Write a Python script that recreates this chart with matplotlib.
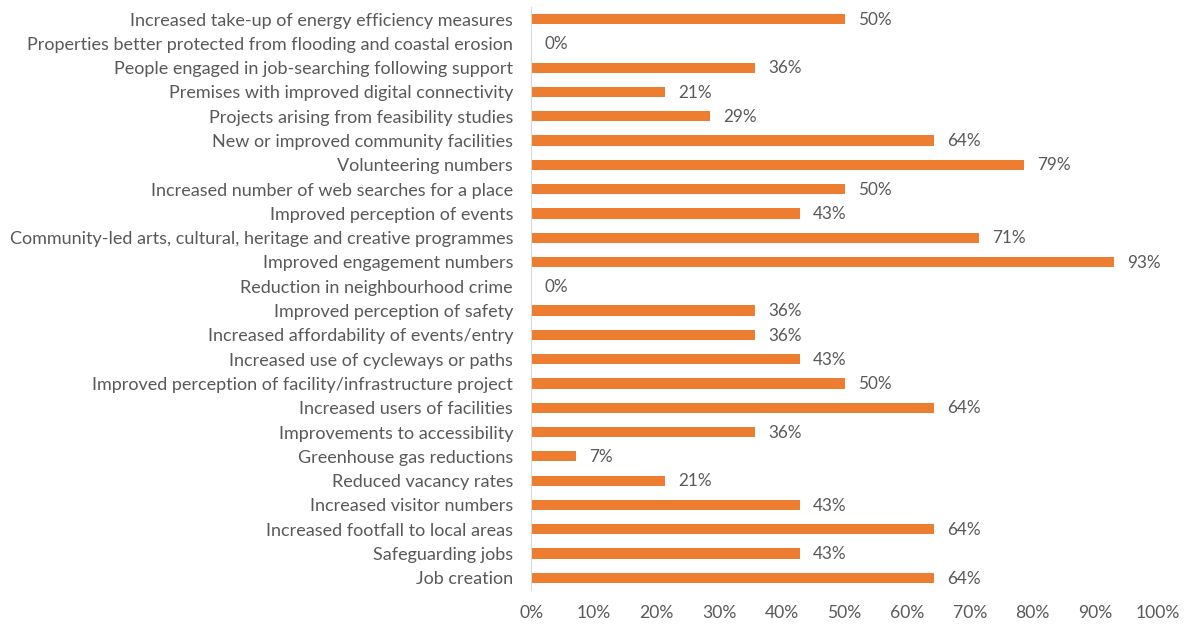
import matplotlib.pyplot as plt
from matplotlib.ticker import PercentFormatter

# categories listed from bottom to top, as drawn
categories = [
    'Job creation',
    'Safeguarding jobs',
    'Increased footfall to local areas',
    'Increased visitor numbers',
    'Reduced vacancy rates',
    'Greenhouse gas reductions',
    'Improvements to accessibility',
    'Increased users of facilities',
    'Improved perception of facility/infrastructure project',
    'Increased use of cycleways or paths',
    'Increased affordability of events/entry',
    'Improved perception of safety',
    'Reduction in neighbourhood crime',
    'Improved engagement numbers',
    'Community-led arts, cultural, heritage and creative programmes',
    'Improved perception of events',
    'Increased number of web searches for a place',
    'Volunteering numbers',
    'New or improved community facilities',
    'Projects arising from feasibility studies',
    'Premises with improved digital connectivity',
    'People engaged in job-searching following support',
    'Properties better protected from flooding and coastal erosion',
    'Increased take-up of energy efficiency measures',
]
values = [64.3, 42.9, 64.3, 42.9, 21.4, 7.1, 35.7, 64.3, 50.0, 42.9, 35.7, 35.7,
          0.0, 92.9, 71.4, 42.9, 50.0, 78.6, 64.3, 28.6, 21.4, 35.7, 0.0, 50.0]

plt.rcParams['font.family'] = ['Lato', 'DejaVu Sans']
text_color = '#595959'

fig = plt.figure(figsize=(11.87, 6.25), dpi=100)
ax = fig.add_axes([0.4474, 0.056, 0.5282, 0.933])

ypos = range(len(categories))
ax.barh(ypos, values, height=0.42, color='#ED7D31')
for y, v in zip(ypos, values):
    ax.annotate(f'{v:.0f}%', (v, y), xytext=(9.5, -0.5), textcoords='offset points',
                va='center', ha='left', fontsize=12.3, color=text_color)

ax.set_xlim(0, 100)
ax.set_ylim(-0.5, len(categories) - 0.5)
ax.set_yticks(list(ypos))
ax.set_yticklabels(categories, fontsize=13)
ax.set_xticks(range(0, 101, 10))
ax.xaxis.set_major_formatter(PercentFormatter(decimals=0))
ax.tick_params(axis='both', length=0, labelcolor=text_color)
ax.tick_params(axis='x', labelsize=12.6, pad=11)
ax.tick_params(axis='y', pad=13)

for side in ['top', 'right', 'bottom']:
    ax.spines[side].set_visible(False)
ax.spines['left'].set_color('#D9D9D9')

fig.savefig('out.png', dpi=100)
